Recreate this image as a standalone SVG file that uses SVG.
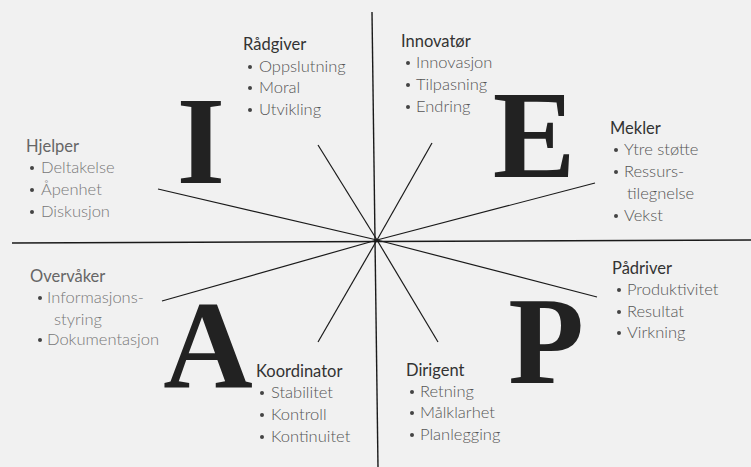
<svg xmlns="http://www.w3.org/2000/svg" width="751" height="467" viewBox="0 0 751 467">
<style>
  .bg { fill: #f1f1f1; }
  .axis { stroke: #1a1a1a; stroke-width: 1.4; fill: none; }
  .spoke { stroke: #1a1a1a; stroke-width: 1.2; fill: none; }
  .title { font-family: Lato, "Open Sans", sans-serif; font-size: 16.5px; fill: #333; }
  .item { font-family: Lato, "Open Sans", sans-serif; font-weight: 300; font-size: 16.5px; fill: #555; }
  .faded .title { fill: #666; }
  .faded .item { fill: #777; }
  .bullet { fill: #444; }
  .big { font-family: "Liberation Serif", "DejaVu Serif", serif; font-weight: bold; font-size: 124px; fill: #222; text-anchor: middle; }
</style>
<defs>
  <radialGradient id="page" cx="0.55" cy="0.5" r="0.7">
    <stop offset="0" stop-color="#f6f6f6"/>
    <stop offset="1" stop-color="#e9e9e9"/>
  </radialGradient>
</defs>
<rect class="bg" x="0" y="0" width="751" height="467" fill="url(#page)"/>

<g id="connectors">
  <line class="axis" x1="372" y1="12" x2="378" y2="467"/>
  <line class="axis" x1="12" y1="243" x2="751" y2="240"/>
  <line class="spoke" x1="158" y1="189" x2="377" y2="240"/>
  <line class="spoke" x1="318" y1="145" x2="377" y2="240"/>
  <line class="spoke" x1="432" y1="143" x2="377" y2="240"/>
  <line class="spoke" x1="595" y1="183" x2="377" y2="240"/>
  <line class="spoke" x1="597" y1="297" x2="377" y2="240"/>
  <line class="spoke" x1="438" y1="342" x2="377" y2="240"/>
  <line class="spoke" x1="318" y1="342" x2="377" y2="240"/>
  <line class="spoke" x1="162" y1="301" x2="377" y2="240"/>
</g>

<g id="letters">
  <text class="big" x="201" y="183">I</text>
  <text class="big" x="534" y="177">E</text>
  <text class="big" x="208" y="387">A</text>
  <text class="big" x="546" y="383">P</text>
</g>

<g id="radgiver">
  <text class="title" x="243" y="50">Rådgiver</text>
  <circle class="bullet" cx="250" cy="67" r="2"/><text class="item" x="259" y="72">Oppslutning</text>
  <circle class="bullet" cx="250" cy="88" r="2"/><text class="item" x="259" y="93">Moral</text>
  <circle class="bullet" cx="250" cy="110" r="2"/><text class="item" x="259" y="115">Utvikling</text>
</g>

<g id="innovator">
  <text class="title" x="401" y="47">Innovatør</text>
  <circle class="bullet" cx="408" cy="63" r="2"/><text class="item" x="416" y="68">Innovasjon</text>
  <circle class="bullet" cx="408" cy="85" r="2"/><text class="item" x="416" y="90">Tilpasning</text>
  <circle class="bullet" cx="408" cy="107" r="2"/><text class="item" x="416" y="112">Endring</text>
</g>

<g id="hjelper" class="faded">
  <text class="title" x="26" y="152">Hjelper</text>
  <circle class="bullet" cx="32" cy="168" r="2"/><text class="item" x="41" y="173">Deltakelse</text>
  <circle class="bullet" cx="32" cy="190" r="2"/><text class="item" x="41" y="195">Åpenhet</text>
  <circle class="bullet" cx="32" cy="212" r="2"/><text class="item" x="41" y="217">Diskusjon</text>
</g>

<g id="mekler">
  <text class="title" x="610" y="134">Mekler</text>
  <circle class="bullet" cx="616" cy="150" r="2"/><text class="item" x="624" y="155">Ytre støtte</text>
  <circle class="bullet" cx="616" cy="172" r="2"/><text class="item" x="624" y="177">Ressurs-</text>
  <text class="item" x="627" y="199">tilegnelse</text>
  <circle class="bullet" cx="616" cy="216" r="2"/><text class="item" x="624" y="221">Vekst</text>
</g>

<g id="overvaker" class="faded">
  <text class="title" x="30" y="282">Overvåker</text>
  <circle class="bullet" cx="40" cy="298" r="2"/><text class="item" x="47" y="303">Informasjons-</text>
  <text class="item" x="54" y="325">styring</text>
  <circle class="bullet" cx="40" cy="340" r="2"/><text class="item" x="47" y="345">Dokumentasjon</text>
</g>

<g id="koordinator">
  <text class="title" x="256" y="377">Koordinator</text>
  <circle class="bullet" cx="262" cy="393" r="2"/><text class="item" x="271" y="398">Stabilitet</text>
  <circle class="bullet" cx="262" cy="415" r="2"/><text class="item" x="271" y="420">Kontroll</text>
  <circle class="bullet" cx="262" cy="437" r="2"/><text class="item" x="271" y="442">Kontinuitet</text>
</g>

<g id="padriver">
  <text class="title" x="612" y="274">Pådriver</text>
  <circle class="bullet" cx="619" cy="290" r="2"/><text class="item" x="627" y="295">Produktivitet</text>
  <circle class="bullet" cx="619" cy="312" r="2"/><text class="item" x="627" y="317">Resultat</text>
  <circle class="bullet" cx="619" cy="333" r="2"/><text class="item" x="627" y="338">Virkning</text>
</g>

<g id="dirigent">
  <text class="title" x="406" y="376">Dirigent</text>
  <circle class="bullet" cx="412" cy="392" r="2"/><text class="item" x="420" y="397">Retning</text>
  <circle class="bullet" cx="412" cy="413" r="2"/><text class="item" x="420" y="418">Målklarhet</text>
  <circle class="bullet" cx="412" cy="435" r="2"/><text class="item" x="420" y="440">Planlegging</text>
</g>
</svg>
